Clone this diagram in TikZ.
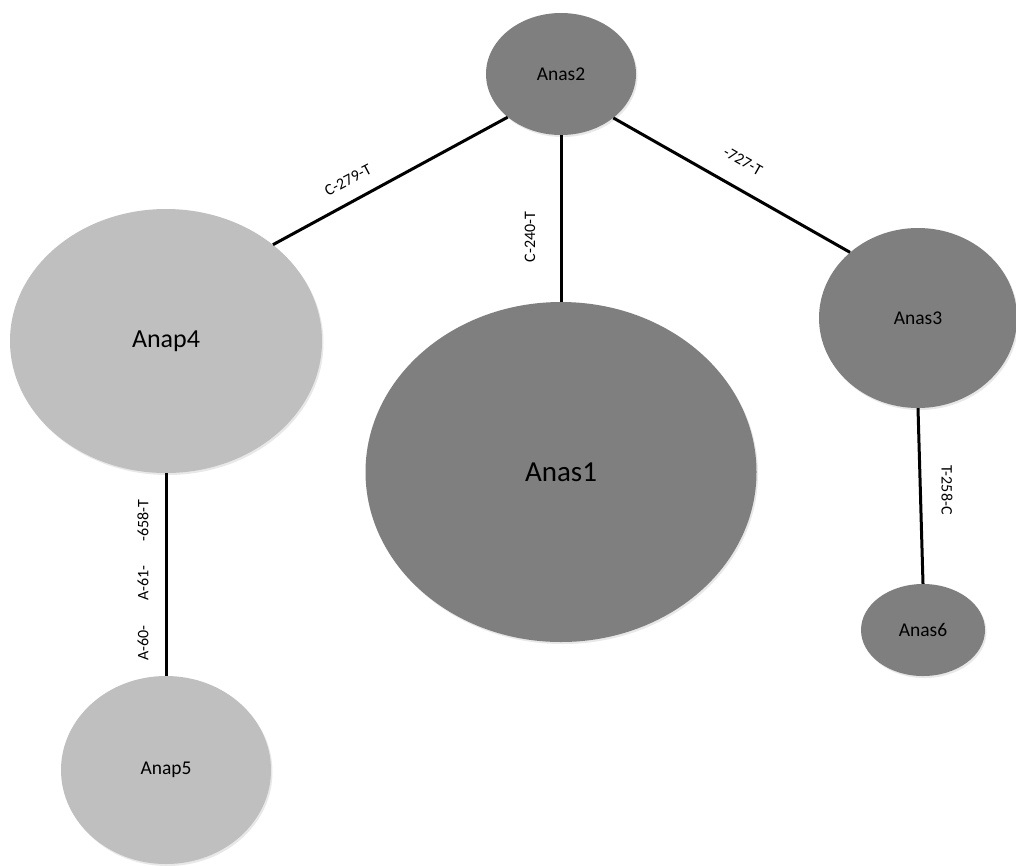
\documentclass[tikz,border=0pt]{standalone}
\usepackage{fontspec}
\setmainfont{Carlito}
\usetikzlibrary{shapes.geometric,shadows}
\definecolor{darkgrey}{RGB}{127,127,127}
\definecolor{lightgrey}{RGB}{191,191,191}
\tikzset{
  hap/.style={ellipse, inner sep=0pt, draw=none,
    drop shadow={opacity=0.18, shadow xshift=1.5pt, shadow yshift=-2pt}},
  dark/.style={hap, fill=darkgrey},
  light/.style={hap, fill=lightgrey},
  small/.style={font=\fontsize{19.5}{20}\selectfont},
  edge/.style={line width=3pt, black},
  lab/.style={font=\fontsize{16}{16}\selectfont, inner sep=0pt}
}
\begin{document}
\begin{tikzpicture}[x=1pt,y=-1pt]
\useasboundingbox (0,0) rectangle (1016,865);
\fill[white] (0,0) rectangle (1016,865);
% nodes
\node[dark, small, minimum width=150pt, minimum height=122pt] (a2) at (561,74) {Anas2};
\node[dark, font=\fontsize{29}{29}\selectfont, minimum width=391pt, minimum height=340pt] (a1) at (561,472) {Anas1};
\node[light, font=\fontsize{26}{26}\selectfont, minimum width=312pt, minimum height=264pt] (p4) at (166,341) {Anap4};
\node[dark, small, minimum width=198pt, minimum height=180pt] (a3) at (918,318) {Anas3};
\node[dark, small, minimum width=124pt, minimum height=92pt] (a6) at (923,630) {Anas6};
\node[light, small, minimum width=210pt, minimum height=188pt] (p5) at (166,770) {Anap5};
% connectors
\draw[edge] (a2.219) -- (p4.42);
\draw[edge] (a2.south) -- (a1.north);
\draw[edge] (a2.320) -- (a3.136);
\draw[edge] (p4.south) -- (p5.north);
\draw[edge] (a3.south) -- (a6.north);
% labels
\node[lab, rotate=28] (l1) at (348,180) {C-279-T};
\node[lab, rotate=90] (l2) at (530,237) {C-240-T};
\node[lab, rotate=-29.6] (l3) at (743,161) {-727-T};
\node[lab, rotate=90] (l4) at (143,580) {A-60-\hspace{25pt}A-61-\hspace{24pt}-658-T};
\node[lab, rotate=-90] (l5) at (947,490) {T-258-C};
\end{tikzpicture}
\end{document}
